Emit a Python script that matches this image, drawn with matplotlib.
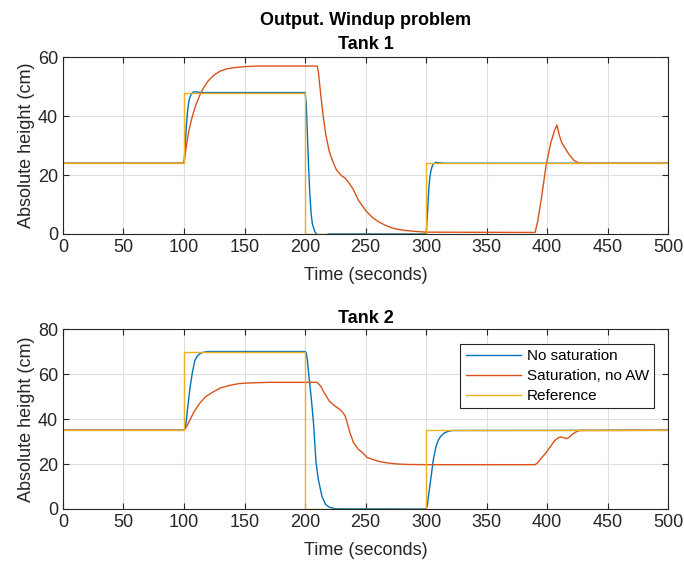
import matplotlib
matplotlib.use('Agg')
import matplotlib.pyplot as plt

# Colours (MATLAB default order)
c_blue = '#0072BD'
c_orange = '#D95319'
c_yellow = '#EDB120'

# ---------------------------------------------------------------------------
# Tank 1 data
t1_ref = [0, 100, 100, 200, 200, 300, 300, 500]
h1_ref = [24, 24, 48, 48, 0, 0, 24, 24]

t1_nosat = [0, 100, 101, 102, 103, 104, 105, 106, 108, 110, 115, 200, 201, 202, 203,
            204, 205, 206, 208, 210, 215, 220, 300, 301, 302, 303, 304, 305, 306,
            308, 310, 315, 500]
h1_nosat = [24, 24, 30, 37, 42, 45, 46.5, 47.5, 48.3, 48.2, 48, 48, 44, 33, 22,
            13, 7, 3.5, 0.8, -0.3, -0.5, 0, 0, 6, 14, 19, 21.5, 23, 23.8,
            24.3, 24.2, 24, 24]

t1_sat = [0, 100, 102, 104, 106, 108, 110, 113, 116, 120, 125, 130, 135, 140, 150,
          160, 180, 210, 211, 213, 215, 217, 220, 223, 226, 230, 233, 236, 240,
          244, 250, 255, 260, 266, 272, 280, 290, 300, 390, 392, 395, 399, 403,
          406, 408, 410, 412, 415, 418, 422, 426, 430, 500]
h1_sat = [24, 24, 30, 35, 38.5, 41.5, 44, 47, 49.5, 52, 54, 55.3, 56, 56.4, 56.8,
          57, 57, 57, 55, 47, 40, 34, 28, 24.5, 21.7, 19.8, 19, 17.5, 15,
          11.5, 8, 5.8, 4.3, 3, 2, 1.3, 0.9, 0.6, 0.5, 4, 11.5, 23, 31,
          35, 37, 33.5, 31, 29, 27, 25, 24.1, 24, 24]

# ---------------------------------------------------------------------------
# Tank 2 data
t2_ref = [0, 100, 100, 200, 200, 300, 300, 500]
h2_ref = [35, 35, 70, 70, 0, 0, 35, 35]

t2_nosat = [0, 100, 101, 102, 103, 105, 107, 109, 111, 113, 115, 117, 120, 200,
            201, 202, 203, 205, 207, 209, 211, 214, 217, 220, 225, 300, 301, 302,
            303, 305, 306, 308, 310, 312, 315, 318, 322, 500]
h2_nosat = [35, 35, 36, 39.5, 45, 54, 61, 66, 68, 69, 69.5, 69.8, 70, 70,
            69.5, 66, 60, 50, 38, 21, 13, 5.5, 2, 0.8, 0.1, 0, 1.5, 6,
            10, 18, 22, 27.5, 30.5, 32.3, 33.8, 34.5, 34.9, 35]

t2_sat = [0, 100, 102, 105, 108, 113, 118, 124, 130, 138, 145, 152, 170, 210,
          213, 216, 220, 224, 228, 231, 233, 235, 237, 240, 244, 248, 251, 256,
          262, 268, 276, 284, 300, 390, 392, 395, 399, 403, 406, 409, 411,
          413, 416, 418, 421, 424, 427, 500]
h2_sat = [35, 35, 36.5, 39.6, 43, 47, 50, 52, 53.8, 55, 55.7, 56, 56.3, 56.3,
          54.5, 51.5, 48, 46, 44.5, 43, 41.5, 38, 34, 29.5, 26.5, 24.8, 23, 22,
          21, 20.5, 20, 19.8, 19.7, 19.7, 20.5, 22.5, 25, 28, 30.3, 31.6, 32,
          31.8, 31.3, 31.8, 33.3, 34.3, 34.9, 35]

legend_labels = ['No saturation', 'Saturation, no AW', 'Reference']

###############################################################################
plt.rcParams['font.family'] = ['Liberation Sans', 'DejaVu Sans']

fig = plt.figure(figsize=(6.84, 5.61), dpi=100)
ax1 = fig.add_axes([0.092, 0.583, 0.885, 0.315])
ax2 = fig.add_axes([0.092, 0.0927, 0.885, 0.3208])

dark = '#262626'
lw = 1.0


def style(ax, ymax, ystep):
    ax.set_xlim(0, 500)
    ax.set_ylim(0, ymax)
    ax.set_xticks(range(0, 501, 50))
    ax.set_yticks(range(0, ymax + 1, ystep))
    ax.grid(True, color='#dfdfdf', linewidth=0.8)
    ax.set_axisbelow(True)
    ax.tick_params(direction='in', top=True, right=True, length=4,
                   labelsize=13, colors=dark, width=0.8)
    for s in ax.spines.values():
        s.set_color(dark)
        s.set_linewidth(0.8)
    ax.set_xlabel('Time (seconds)', fontsize=13, color=dark, labelpad=8)
    ax.set_ylabel('Absolute height (cm)', fontsize=13, color=dark, labelpad=2)


ax1.plot(t1_nosat, h1_nosat, color=c_blue, lw=lw)
ax1.plot(t1_sat, h1_sat, color=c_orange, lw=lw)
ax1.plot(t1_ref, h1_ref, color=c_yellow, lw=lw)
style(ax1, 60, 20)
ax1.set_title('Output. Windup problem\nTank 1', fontsize=13, fontweight='bold',
              pad=6, linespacing=1.55)

ax2.plot(t2_nosat, h2_nosat, color=c_blue, lw=lw, label=legend_labels[0])
ax2.plot(t2_sat, h2_sat, color=c_orange, lw=lw, label=legend_labels[1])
ax2.plot(t2_ref, h2_ref, color=c_yellow, lw=lw, label=legend_labels[2])
style(ax2, 80, 20)
ax2.set_title('Tank 2', fontsize=13, fontweight='bold', pad=4)

leg = ax2.legend(loc='upper right', bbox_to_anchor=(0.977, 0.917), fontsize=11,
                 frameon=True, fancybox=False, handlelength=3.6,
                 borderpad=0.35, labelspacing=0.38, handletextpad=0.4,
                 borderaxespad=0)
leg.get_frame().set_edgecolor(dark)
leg.get_frame().set_linewidth(0.8)
leg.get_frame().set_alpha(1)

fig.savefig('out.png', dpi=100)
